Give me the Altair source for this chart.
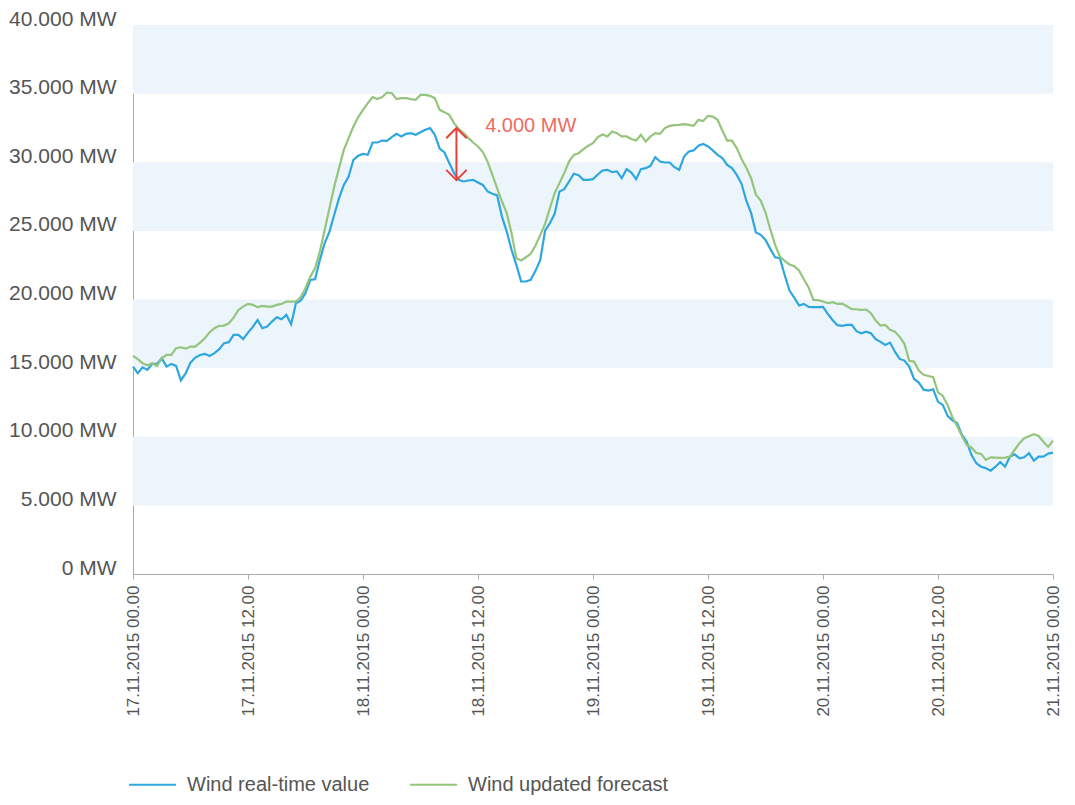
import altair as alt
import pandas as pd

start = "2015-11-17 00:00"
step = "30min"
series_names = ["Wind real-time value", "Wind updated forecast"]
series_colors = ["#2ea7e0", "#95c47c"]

realtime = [
    15110, 14630, 15060, 14870, 15310, 15310, 15720, 15110, 15310, 15160,
    14100, 14630, 15400, 15770, 15960, 16040, 15890, 16090, 16380, 16820,
    16890, 17420, 17420, 17110, 17590, 18000, 18510, 17910, 18030, 18390,
    18710, 18560, 18880, 18200, 19730, 19920, 20460, 21430, 21480, 22890,
    24100, 24950, 26170, 27380, 28350, 28960, 30180, 30470, 30610, 30540,
    31440, 31440, 31580, 31560, 31830, 32070, 31880, 32070, 32120, 32000,
    32190, 32360, 32490, 32000, 30990, 30710, 29940, 29210, 28720, 28600,
    28670, 28720, 28520, 28350, 27870, 27700, 27580, 26040, 24950, 23620,
    22520, 21310, 21310, 21430, 22090, 22890, 25020, 25560, 26240, 27870,
    28040, 28600, 29160, 29060, 28720, 28720, 28770, 29110, 29400, 29450,
    29280, 29330, 28840, 29500, 29250, 28770, 29500, 29570, 29740, 30370,
    30050, 29980, 29980, 29640, 29450, 30420, 30780, 30860, 31200, 31340,
    31150, 30860, 30540, 30300, 29810, 29570, 29080, 28430, 27200, 26290,
    24880, 24710, 24340, 23690, 23080, 23010, 21790, 20650, 20140, 19560,
    19680, 19460, 19440, 19440, 19460, 18950, 18510, 18130, 18080, 18150,
    18150, 17690, 17540, 17660, 17540, 17110, 16910, 16690, 16860, 16200,
    15670, 15550, 15110, 14210, 13950, 13430, 13360, 13460, 12540, 12320,
    11520, 11200, 10980, 10130, 9640, 8670, 8070, 7820, 7700, 7530,
    7820, 8160, 7820, 8550, 8720, 8430, 8500, 8800, 8260, 8550,
    8550, 8770, 8840]

forecast = [
    15900, 15650, 15360, 15210, 15360, 15160, 15720, 15960, 15960, 16450,
    16520, 16420, 16570, 16570, 16860, 17180, 17620, 17910, 18080, 18100,
    18270, 18680, 19240, 19480, 19680, 19610, 19440, 19530, 19480, 19480,
    19610, 19680, 19850, 19850, 19850, 20170, 20820, 21670, 22280, 23490,
    25070, 26650, 28230, 29570, 30900, 31760, 32600, 33290, 33820, 34310,
    34750, 34600, 34750, 35080, 35040, 34600, 34670, 34670, 34600, 34550,
    34910, 34910, 34840, 34670, 33820, 33650, 33460, 32850, 32410, 32120,
    31760, 31440, 31150, 30740, 30050, 29080, 28100, 27140, 26290, 24830,
    23010, 22840, 23080, 23330, 23930, 24710, 25510, 26650, 27750, 28480,
    29210, 30050, 30540, 30660, 30960, 31200, 31390, 31830, 32020, 31880,
    32240, 32120, 31880, 31880, 31690, 31580, 32000, 31510, 31880, 32120,
    32070, 32490, 32650, 32700, 32720, 32780, 32720, 32650, 33090, 33000,
    33380, 33330, 33090, 32310, 31580, 31580, 31030, 30230, 29600, 28840,
    27630, 27210, 26340, 25120, 23980, 23130, 22810, 22550, 22430, 22110,
    21480, 20870, 19970, 19950, 19850, 19730, 19800, 19680, 19700, 19510,
    19290, 19290, 19240, 19270, 19000, 18460, 18100, 18150, 17790, 17660,
    17280, 16770, 15530, 15480, 14820, 14510, 14430, 14340, 13240, 12970,
    12320, 11420, 10790, 10060, 9400, 9200, 8820, 8750, 8310, 8500,
    8480, 8460, 8480, 8550, 9040, 9530, 9890, 10040, 10180, 10060,
    9640, 9260, 9720]

band_low = [5000, 15000, 25000, 35000]
band_high = [10000, 20000, 30000, 40000]
y_ticks = [0, 5000, 10000, 15000, 20000, 25000, 30000, 35000, 40000]

tick_times = ["2015-11-17 00:00", "2015-11-17 12:00", "2015-11-18 00:00",
              "2015-11-18 12:00", "2015-11-19 00:00", "2015-11-19 12:00",
              "2015-11-20 00:00", "2015-11-20 12:00", "2015-11-21 00:00"]

arrow_time = "2015-11-18 09:45"
arrow_top = 32500
arrow_bottom = 28700
note_time = "2015-11-18 12:45"
note_value = 32650
note_text = "4.000 MW"

times = pd.date_range(start, periods=len(realtime), freq=step)
lines = pd.concat([
    pd.DataFrame({"time": times, "value": realtime, "series": series_names[0]}),
    pd.DataFrame({"time": times, "value": forecast, "series": series_names[1]}),
])
bands = pd.DataFrame({"lo": band_low, "hi": band_high})

FONT = "Liberation Sans"
x_scale = alt.Scale(domain=[pd.Timestamp(tick_times[0]).isoformat(),
                            pd.Timestamp(tick_times[-1]).isoformat()])
y_scale = alt.Scale(domain=[0, 40000], nice=False)

tick_vals = [alt.DateTime(year=t.year, month=t.month, date=t.day, hours=t.hour)
             for t in pd.to_datetime(tick_times)]

band_layer = alt.Chart(bands).mark_rect(color="#edf5fc").encode(
    y=alt.Y("lo:Q", scale=y_scale),
    y2="hi:Q",
)

line_layer = alt.Chart(lines).mark_line(strokeWidth=2.2).encode(
    x=alt.X("time:T", scale=x_scale, title=None,
            axis=alt.Axis(values=tick_vals, format="%d.%m.%Y %H.%M", labelAngle=-90,
                          labelFontSize=17, labelColor="#555", labelFont=FONT,
                          domainColor="#aaa", tickColor="#aaa", tickSize=5,
                          labelPadding=6, grid=False)),
    y=alt.Y("value:Q", scale=y_scale, title=None,
            axis=alt.Axis(values=y_ticks,
                          labelExpr="replace(format(datum.value, ',.0f'), ',', '.') + ' MW'",
                          labelFontSize=21, labelColor="#555", labelFont=FONT,
                          ticks=False, tickSize=0, labelPadding=17, domainColor="#aaa",
                          labelBaseline="alphabetic", grid=False)),
    color=alt.Color("series:N", scale=alt.Scale(domain=series_names, range=series_colors),
                    legend=alt.Legend(title=None, orient="none", direction="horizontal",
                                      legendX=-5, legendY=735, symbolType="stroke",
                                      symbolSize=2200, symbolStrokeWidth=2,
                                      labelFontSize=20, labelColor="#555", labelFont=FONT,
                                      labelOffset=10, columnPadding=36, labelLimit=0)),
    order="time:T",
)

arrow_df = pd.DataFrame({"t": [pd.Timestamp(arrow_time)], "top": [arrow_top],
                         "bottom": [arrow_bottom]})
arrow_rule = alt.Chart(arrow_df).mark_rule(color="#e8403b", strokeWidth=2).encode(
    x=alt.X("t:T", scale=x_scale), y=alt.Y("top:Q", scale=y_scale), y2="bottom:Q")
head_top = alt.Chart(arrow_df).mark_point(shape="M-1,1L0,0L1,1", filled=False, size=420,
                                         color="#e8403b", strokeWidth=2, opacity=1).encode(
    x=alt.X("t:T", scale=x_scale), y=alt.Y("top:Q", scale=y_scale))
head_bot = alt.Chart(arrow_df).mark_point(shape="M-1,-1L0,0L1,-1", filled=False, size=420,
                                         color="#e8403b", strokeWidth=2, opacity=1).encode(
    x=alt.X("t:T", scale=x_scale), y=alt.Y("bottom:Q", scale=y_scale))

note_df = pd.DataFrame({"t": [pd.Timestamp(note_time)], "v": [note_value], "label": [note_text]})
note = alt.Chart(note_df).mark_text(align="left", baseline="middle", fontSize=20,
                                    font=FONT, color="#ef6b60").encode(
    x=alt.X("t:T", scale=x_scale), y=alt.Y("v:Q", scale=y_scale), text="label:N")

chart = alt.layer(band_layer, line_layer, arrow_rule, head_top, head_bot, note).properties(
    width=920, height=549,
    autosize=alt.AutoSizeParams(type="none"),
    padding={"left": 125, "top": 17, "right": 10, "bottom": 221},
).configure_view(stroke=None)

chart.save("out.html", embed_options={"renderer": "svg", "actions": False})
